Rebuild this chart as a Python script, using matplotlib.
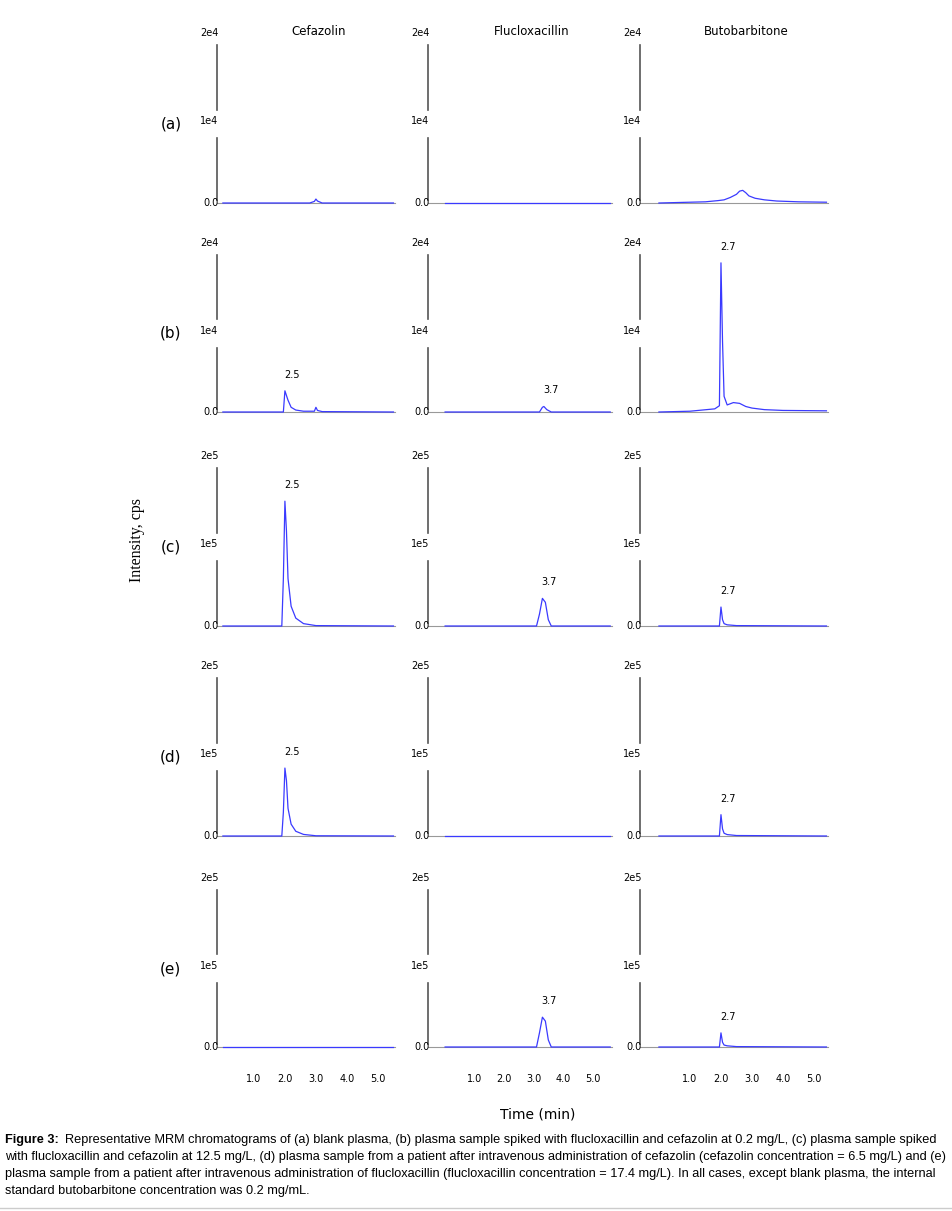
import matplotlib
matplotlib.use("Agg")
import matplotlib.pyplot as plt

W, H = 953, 1211
compounds = ["Cefazolin", "Flucloxacillin", "Butobarbitone"]
rows = ["(a)", "(b)", "(c)", "(d)", "(e)"]
ymax_labels = ["2e4", "2e4", "2e5", "2e5", "2e5"]
ymid_labels = ["1e4", "1e4", "1e5", "1e5", "1e5"]
ymax_vals = [2e4, 2e4, 2e5, 2e5, 2e5]
xtick_vals = [1.0, 2.0, 3.0, 4.0, 5.0]
peak_labels = {(1, 0): "2.5", (1, 1): "3.7", (1, 2): "2.7", (2, 0): "2.5", (2, 1): "3.7",
               (2, 2): "2.7", (3, 0): "2.5", (3, 2): "2.7", (4, 1): "3.7", (4, 2): "2.7"}

# traces: (row, col) -> (times, intensities)
traces = {
 (0, 0): ([0, 2.8, 2.95, 3.0, 3.05, 3.2, 5.5], [0, 0, 200, 500, 250, 0, 0]),
 (0, 1): ([0, 5.6], [0, 0]),
 (0, 2): ([0, 1.0, 1.5, 1.9, 2.1, 2.3, 2.5, 2.6, 2.7, 2.8, 2.9, 3.1, 3.4, 3.8, 4.5, 5.4],
          [0, 100, 150, 300, 400, 700, 1100, 1500, 1600, 1300, 900, 600, 400, 250, 150, 100]),
 (1, 0): ([0, 1.95, 2.0, 2.1, 2.2, 2.35, 2.6, 2.95, 3.0, 3.05, 3.2, 5.5],
          [0, 0, 2700, 1500, 600, 250, 100, 100, 600, 200, 50, 0]),
 (1, 1): ([0, 3.2, 3.3, 3.35, 3.45, 3.6, 5.6], [0, 0, 600, 700, 300, 0, 0]),
 (1, 2): ([0, 1.0, 1.8, 1.95, 2.0, 2.05, 2.1, 2.2, 2.4, 2.6, 2.8, 3.0, 3.4, 4.0, 5.4],
          [0, 100, 400, 800, 19000, 9000, 2000, 900, 1200, 1100, 700, 500, 300, 200, 150]),
 (2, 0): ([0, 1.9, 1.95, 2.0, 2.05, 2.1, 2.2, 2.35, 2.6, 3.0, 5.5],
          [0, 0, 60000, 158000, 120000, 60000, 25000, 10000, 3000, 500, 0]),
 (2, 1): ([0, 3.1, 3.2, 3.3, 3.4, 3.5, 3.6, 5.6], [0, 0, 15000, 35000, 30000, 8000, 0, 0]),
 (2, 2): ([0, 1.95, 2.0, 2.05, 2.1, 2.2, 2.5, 5.4], [0, 0, 24000, 8000, 3000, 1500, 500, 0]),
 (3, 0): ([0, 1.9, 1.95, 2.0, 2.05, 2.1, 2.2, 2.35, 2.6, 3.0, 5.5],
          [0, 0, 30000, 86000, 70000, 35000, 15000, 6000, 2000, 300, 0]),
 (3, 1): ([0, 5.6], [0, 0]),
 (3, 2): ([0, 1.95, 2.0, 2.05, 2.1, 2.2, 2.5, 5.4], [0, 0, 27000, 9000, 3500, 1800, 600, 0]),
 (4, 0): ([0, 5.5], [0, 0]),
 (4, 1): ([0, 3.1, 3.2, 3.3, 3.4, 3.5, 3.6, 5.6], [0, 0, 18000, 38000, 33000, 9000, 0, 0]),
 (4, 2): ([0, 1.95, 2.0, 2.05, 2.1, 2.2, 2.5, 5.4], [0, 0, 18000, 6000, 2500, 1500, 500, 0]),
}

col_px = [(217, 395, -0.19, 5.55), (428, 612, -0.58, 5.66), (640, 828, -0.61, 5.45)]
row_px = [(45, 203), (255, 412), (468, 626), (678, 836), (890, 1047)]
blue = "#3a3aff"

fig = plt.figure(figsize=(W / 100, H / 100), dpi=100)
fs = 7
for r in range(5):
    top, base = row_px[r]
    for c in range(3):
        l, rr, x0, x1 = col_px[c]
        ax = fig.add_axes([l / W, (H - base) / H, (rr - l) / W, (base - top) / H])
        ax.set_xlim(x0, x1)
        ym = ymax_vals[r]
        ax.set_ylim(0, ym)
        ax.axis("off")
        ax.plot([x0, x1], [0, 0], color="#999999", lw=0.8, clip_on=False)
        ax.plot([x0, x0], [0.02 * ym, 0.41 * ym], color="#555555", lw=1.2, clip_on=False)
        ax.plot([x0, x0], [0.59 * ym, ym], color="#555555", lw=1.2, clip_on=False)
        t, v = traces[(r, c)]
        ax.plot(t, v, color=blue, lw=0.9, clip_on=False)
        ax.annotate("0.0", (x0, 0), xytext=(1, 0), textcoords="offset points",
                    ha="right", va="center", fontsize=fs)
        ax.annotate(ymid_labels[r], (x0, 0.5 * ym), xytext=(1, 2), textcoords="offset points",
                    ha="right", va="center", fontsize=fs)
        ax.annotate(ymax_labels[r], (x0, ym), xytext=(1, 5), textcoords="offset points",
                    ha="right", va="bottom", fontsize=fs)
        if (r, c) in peak_labels:
            pk = max(v)
            px = t[v.index(pk)]
            ax.annotate(peak_labels[(r, c)], (px, pk), xytext=(5, 8), textcoords="offset points",
                        ha="center", va="bottom", fontsize=fs)
        if r == 4:
            for xv in xtick_vals:
                ax.text(xv, -0.17 * ym, f"{xv:.1f}", ha="center", va="top", fontsize=fs)
        if c == 0:
            ax.text(x0 - (x1 - x0) * 0.2, 0.5 * ym, rows[r], ha="right", va="center", fontsize=11)
        if r == 0:
            ax.annotate(compounds[c], ((x0 + x1) / 2 + 0.4, ym), xytext=(0, 5), textcoords="offset points",
                        ha="center", va="bottom", fontsize=8.5)

fig.text(137 / W, 1 - 540 / H, "Intensity, cps", rotation=90, ha="center", va="center",
         fontsize=11.5, family="Liberation Serif")
fig.text(538 / W, 1 - 1115 / H, "Time (min)", ha="center", va="center", fontsize=10)

cap = ["Representative MRM chromatograms of (a) blank plasma, (b) plasma sample spiked with flucloxacillin and cefazolin at 0.2 mg/L, (c) plasma sample spiked",
       "with flucloxacillin and cefazolin at 12.5 mg/L, (d) plasma sample from a patient after intravenous administration of cefazolin (cefazolin concentration = 6.5 mg/L) and (e)",
       "plasma sample from a patient after intravenous administration of flucloxacillin (flucloxacillin concentration = 17.4 mg/L). In all cases, except blank plasma, the internal",
       "standard butobarbitone concentration was 0.2 mg/mL."]
cfs = 9.2
fig.text(5 / W, 1 - 1140 / H, "Figure 3:", fontweight="bold", fontsize=cfs, family="Liberation Sans", va="center")
fig.text(65 / W, 1 - 1140 / H, cap[0], fontsize=cfs, family="Liberation Sans", va="center")
for i, line in enumerate(cap[1:]):
    fig.text(5 / W, 1 - (1157 + 17 * i) / H, line, fontsize=cfs, family="Liberation Sans", va="center")
fig.add_artist(plt.Line2D([0, 1], [1 - 1208 / H, 1 - 1208 / H], color="#cccccc", lw=1))
fig.savefig("out.png", dpi=100)
